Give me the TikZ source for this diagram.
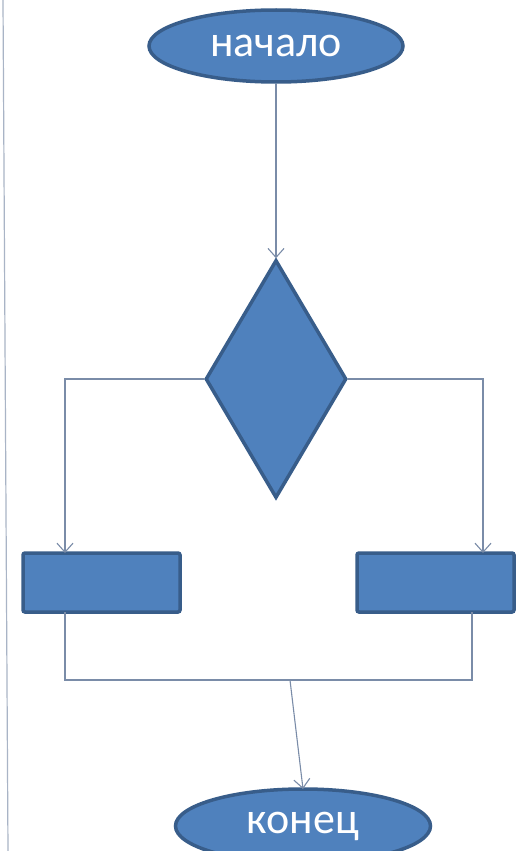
\documentclass[tikz,border=0pt]{standalone}
\usepackage{fontspec}
\setmainfont{Carlito}
\usetikzlibrary{shapes.geometric,arrows.meta,calc}
\definecolor{boxfill}{HTML}{4F81BD}
\definecolor{boxline}{HTML}{385D8A}
\definecolor{connline}{HTML}{7A8CA8}
\definecolor{edgeline}{HTML}{A9B4C6}
\tikzset{
  shapebase/.style={fill=boxfill, draw=boxline, line width=3.5pt, inner sep=0pt},
  term/.style={shapebase, ellipse, text=white, font=\fontsize{44}{46}\selectfont},
  decision/.style={shapebase, diamond},
  procbox/.style={shapebase, rectangle, rounded corners=2pt},
  conn/.style={draw=connline, line width=1.1pt},
  connarrow/.style={conn, -{Straight Barb[length=9pt, width=16pt, line width=1.1pt]}},
}
\begin{document}
\begin{tikzpicture}[x=1pt, y=-1pt]
\clip (0,0) rectangle (522,851);
\useasboundingbox (0,0) rectangle (522,851);
\fill[white] (0,0) rectangle (522,851);
% left border line
\coordinate (e1) at (3,0);
\coordinate (e2) at (8,851);
\draw[draw=edgeline, line width=1.2pt] (e1) -- (e2);
% nodes
\node[term, minimum width=254pt, minimum height=72pt] (start) at (276,46) {начало};
\node[decision, minimum width=141pt, minimum height=238pt] (D) at (276,379) {};
\node[procbox, minimum width=157pt, minimum height=59pt] (L) at (101.5,582.5) {};
\node[procbox, minimum width=157pt, minimum height=59pt] (R) at (435.5,582.5) {};
\node[term, minimum width=255pt, minimum height=74pt] (finish) at (303,826) {конец};
% coordinates
\coordinate (Lin) at (65,553);
\coordinate (Rin) at (483,553);
\coordinate (Lout) at (65,612);
\coordinate (Rout) at (472,612);
\coordinate (m) at (290,680);
\coordinate (Fin) at (303,789);
% connectors
\draw[connarrow] (start.south) -- (D.north);
\draw[connarrow] (D.west) -| (Lin);
\draw[connarrow] (D.east) -| (Rin);
\draw[conn] (Lout) |- (m);
\draw[conn] (Rout) |- (m);
\draw[connarrow] (m) -- (Fin);
\end{tikzpicture}
\end{document}
